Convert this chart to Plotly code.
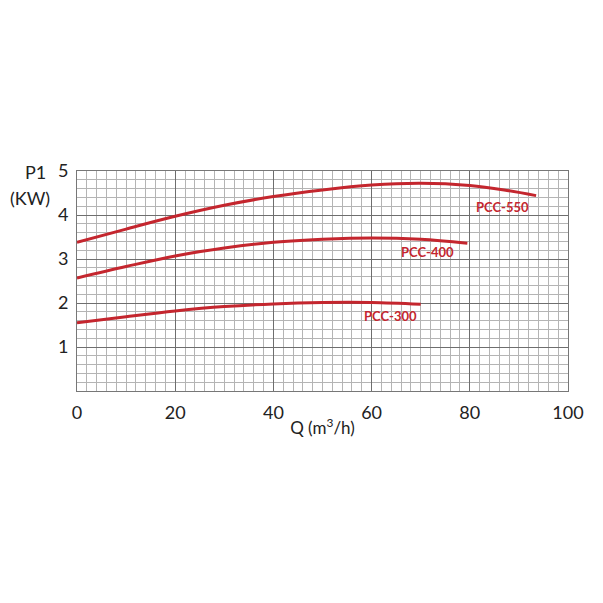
import plotly.graph_objects as go

q_550 = [0, 10, 20, 30, 40, 50, 60, 70, 80, 87, 93.5]
p_550 = [3.38, 3.68, 3.97, 4.22, 4.42, 4.57, 4.68, 4.72, 4.67, 4.57, 4.44]

q_400 = [0, 10, 20, 30, 40, 50, 60, 70, 79.5]
p_400 = [2.57, 2.83, 3.07, 3.25, 3.38, 3.45, 3.48, 3.45, 3.36]

q_300 = [0, 10, 20, 30, 40, 50, 60, 70]
p_300 = [1.55, 1.69, 1.82, 1.92, 1.98, 2.01, 2.01, 1.97]

modelos = ['PCC-550', 'PCC-400', 'PCC-300']
label_x = [86.7, 71.4, 63.9]
label_y = [4.18, 3.16, 1.70]

x_ticks = [0, 20, 40, 60, 80, 100]
y_ticks = [1, 2, 3, 4, 5]

rojo = '#c4262e'
fuente = 'Lato, Open Sans, sans-serif'

fig = go.Figure()

for q, p in [(q_550, p_550), (q_400, p_400), (q_300, p_300)]:
    fig.add_trace(go.Scatter(
        x= q,
        y= p,
        mode= 'lines',
        line= dict(color= rojo, width= 3, shape= 'spline', smoothing= 1.0),
        showlegend= False,
        hoverinfo= 'skip'
    ))

for nombre, lx, ly in zip(modelos, label_x, label_y):
    fig.add_annotation(
        x= lx, y= ly, text= f'<b>{nombre}</b>',
        showarrow= False,
        font= dict(family= fuente, size= 13, color= rojo)
    )

fig.add_annotation(
    xref= 'paper', yref= 'paper', x= -0.085, y= 0.995,
    text= 'P1', showarrow= False, xanchor= 'center', yanchor= 'middle',
    font= dict(family= fuente, size= 18, color= '#222')
)
fig.add_annotation(
    xref= 'paper', yref= 'paper', x= -0.095, y= 0.877,
    text= '(KW)', showarrow= False, xanchor= 'center', yanchor= 'middle',
    font= dict(family= fuente, size= 18, color= '#222')
)

fig.update_layout(
    width= 603,
    height= 603,
    margin= dict(l= 69, r= 43, t= 163, b= 220),
    plot_bgcolor= 'white',
    paper_bgcolor= 'white',
    font= dict(family= fuente, size= 18, color= '#222'),
    xaxis= dict(
        range= [0, 100],
        tickvals= x_ticks,
        showgrid= True,
        gridcolor= '#6e6e6e',
        gridwidth= 1,
        zeroline= False,
        showline= True,
        linecolor= '#777',
        mirror= True,
        ticks= '',
        ticklabelstandoff= 5,
        minor= dict(dtick= 2, showgrid= True, gridcolor= '#b4b4b4', gridwidth= 1),
        title= dict(text= 'Q (m<sup>3</sup>/h)', standoff= 0,
                    font= dict(family= fuente, size= 17, color= '#222'))
    ),
    yaxis= dict(
        range= [0, 5],
        tickvals= y_ticks,
        showgrid= True,
        gridcolor= '#6e6e6e',
        gridwidth= 1,
        zeroline= False,
        showline= True,
        linecolor= '#777',
        mirror= True,
        ticks= '',
        ticklabelstandoff= 4,
        minor= dict(dtick= 0.2, showgrid= True, gridcolor= '#b4b4b4', gridwidth= 1)
    )
)

fig.write_html('out.html')
